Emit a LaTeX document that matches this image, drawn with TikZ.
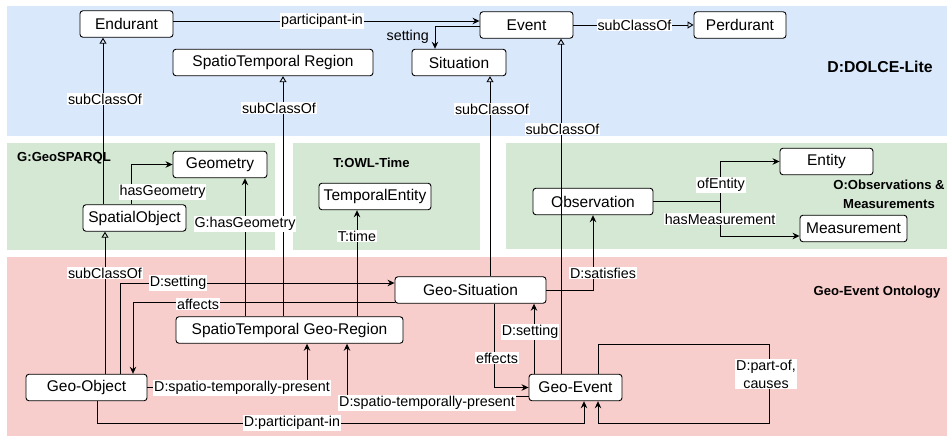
\documentclass[tikz,border=0pt]{standalone}
\usepackage{fontspec}
\setmainfont{Liberation Sans}
\usetikzlibrary{arrows.meta,calc}
\definecolor{blueBG}{HTML}{DAE8FC}
\definecolor{greenBG}{HTML}{D5E8D4}
\definecolor{redBG}{HTML}{F8CECC}
\begin{document}
\begin{tikzpicture}[x=1pt,y=-1pt,
  box/.style={draw=black, line width=0.9pt, rounded corners=3pt, fill=white, minimum height=26.5pt, inner sep=0pt, font=\fontsize{15.5}{17}\selectfont},
  lbl/.style={fill=white, inner sep=1pt, font=\fontsize{14.3}{16}\selectfont},
  grp/.style={font=\fontsize{13.1}{19}\bfseries\selectfont, align=center, inner sep=0pt},
  arr/.style={draw, line width=0.9pt, -{Stealth[length=7pt,width=6.5pt]}},
  sub/.style={draw, line width=0.9pt, -{Triangle[open,length=6pt,width=7pt]}},
]
\useasboundingbox (0,0) rectangle (947,436);
% region backgrounds
\fill[blueBG] (7,6) rectangle (947,136);
\fill[greenBG] (7,143) rectangle (275,250);
\fill[greenBG] (293,143) rectangle (480,250);
\fill[greenBG] (506,143) rectangle (947,249);
\fill[redBG] (7,257) rectangle (947,436);

% group titles
\node[grp, font=\fontsize{15.8}{19}\bfseries\selectfont] (tDolce) at (880,67) {D:DOLCE-Lite};
\node[grp, anchor=west] (tGeo) at (17,158) {G:GeoSPARQL};
\node[grp] (tTime) at (371.5,163) {T:OWL-Time};
\node[grp] (tObs) at (889,194.5) {O:Observations \&\\Measurements};
\node[grp] (tGE) at (877,292) {Geo-Event Ontology};

% nodes
\node[box, minimum width=93pt] (endurant) at (126.5,24) {Endurant};
\node[box, minimum width=93pt] (event) at (526.5,25) {Event};
\node[box, minimum width=92pt] (perdurant) at (740,25) {Perdurant};
\node[box, minimum width=200pt] (str) at (273,62.5) {SpatioTemporal Region};
\node[box, minimum width=94pt] (situation) at (459,62.5) {Situation};
\node[box, minimum width=94pt] (geometry) at (220,164.5) {Geometry};
\node[box, minimum width=103pt] (spobj) at (134.5,218) {SpatialObject};
\node[box, minimum width=112pt] (tempent) at (375,196.5) {TemporalEntity};
\node[box, minimum width=93pt] (entity) at (826.5,161.5) {Entity};
\node[box, minimum width=120pt] (observation) at (593,201.5) {Observation};
\node[box, minimum width=107pt] (measurement) at (853.5,228.5) {Measurement};
\node[box, minimum width=151pt] (geosit) at (470.5,290) {Geo-Situation};
\node[box, minimum width=227pt] (stgr) at (289.5,330) {SpatioTemporal Geo-Region};
\node[box, minimum width=121pt] (geoobj) at (86.5,387.5) {Geo-Object};
\node[box, minimum width=93pt] (geoevent) at (575.5,387.5) {Geo-Event};

% junction and corner coordinates
\coordinate (obsj) at (720,201.5);
\coordinate (pj) at (584,423);
\coordinate (loopA) at (769,344);
\coordinate (loopB) at (598,423);

% connectors
\draw[arr] (endurant.east |- 0,21) -- (event.west |- 0,21);
\draw[arr] (event.west |- 0,26) -| (situation.north -| 435,0);
\draw[sub] (event.east) -- (perdurant.west);
\draw[sub] (spobj.north -| 103,0) -- (endurant.south -| 103,0);
\draw[sub] (geoobj.north -| 105,0) -- (spobj.south -| 105,0);
\draw[sub] (stgr.north -| 283,0) -- (str.south -| 283,0);
\draw[sub] (geosit.north -| 490,0) -- (situation.south -| 490,0);
\draw[sub] (geoevent.north -| 561,0) -- (event.south -| 561,0);
\draw[arr] (spobj.north -| 131,0) |- (geometry.west);
\draw[arr] (stgr.north -| 245,0) -- (geometry.south -| 245,0);
\draw[arr] (stgr.north -| 357,0) -- (tempent.south -| 357,0);
\draw[line width=0.9pt] (observation.east) -- (obsj);
\draw[arr] (obsj) |- (entity.west);
\draw[arr] (obsj) |- (measurement.west |- 0,236);
\draw[arr] (geosit.east) -| (observation.south);
\draw[arr] (geosit.south -| 494,0) |- (geoevent.west);
\draw[arr] (geoevent.north -| 534,0) -- (geosit.south -| 534,0);
\draw[arr] (geoobj.north -| 120,0) |- (geosit.west |- 0,283);
\draw[arr] (geosit.west |- 0,302) -| (geoobj.north -| 133,0);
\draw[arr] (geoobj.east) -| (stgr.south -| 307,0);
\draw[arr] (geoevent.west |- 0,396) -| (stgr.south -| 347,0);
\draw[arr] (geoobj.south -| 97,0) |- (pj) -- (geoevent.south -| pj);
\draw[arr] (geoevent.north -| loopB) |- (loopA) |- (loopB) -- (geoevent.south -| loopB);

% connector labels
\node[lbl] (l1) at (322,21) {participant-in};
\node[lbl, fill=none, anchor=east] (l2) at (430,37) {setting};
\node[lbl] (l3) at (634.5,25) {subClassOf};
\node[lbl] (l4) at (105,99) {subClassOf};
\node[lbl] (l5) at (279,108) {subClassOf};
\node[lbl] (l6) at (492,109) {subClassOf};
\node[lbl] (l7) at (562.5,129) {subClassOf};
\node[lbl] (l8) at (162.5,192) {hasGeometry};
\node[lbl] (l9) at (245,224) {G:hasGeometry};
\node[lbl] (l10) at (357,236) {T:time};
\node[lbl] (l11) at (721,185) {ofEntity};
\node[lbl] (l12) at (720,219) {hasMeasurement};
\node[lbl] (l13) at (105,273) {subClassOf};
\node[lbl] (l14) at (178,283) {D:setting};
\node[lbl] (l15) at (198,304) {affects};
\node[lbl] (l16) at (603,273) {D:satisfies};
\node[lbl] (l17) at (530,332) {D:setting};
\node[lbl] (l18) at (497,358) {effects};
\node[lbl] (l19) at (242,388) {D:spatio-temporally-present};
\node[lbl] (l20) at (427,403) {D:spatio-temporally-present};
\node[lbl] (l21) at (292,423) {D:participant-in};
\node[lbl, align=center, font=\fontsize{14.3}{18}\selectfont] (l22) at (766,374) {D:part-of,\\causes};
\end{tikzpicture}
\end{document}
